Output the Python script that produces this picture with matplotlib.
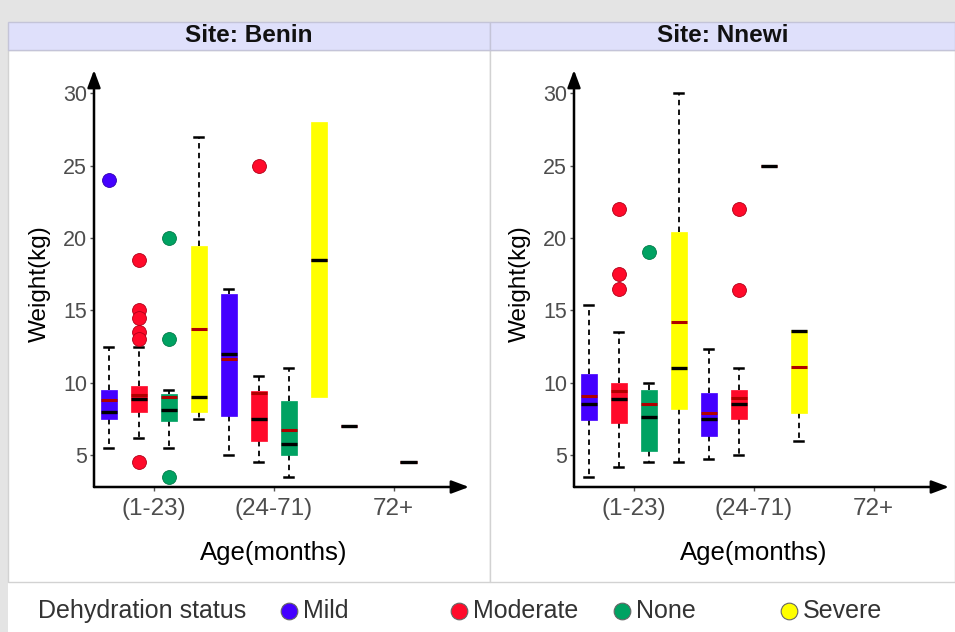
import matplotlib
matplotlib.use("Agg")
import matplotlib.pyplot as plt
from matplotlib.patches import Rectangle
from matplotlib.lines import Line2D

plt.rcParams['font.family'] = ['Liberation Sans', 'DejaVu Sans']

# ---------------- data ----------------
age_groups = ["(1-23)", "(24-71)", "72+"]
statuses = ["Mild", "Moderate", "None", "Severe"]
status_colors = ["#4400ff", "#ff0a2a", "#00a262", "#ffff00"]
status_edges = ["#3000b0", "#b00018", "#007a48", "#b0b000"]
sites = ["Site: Benin", "Site: Nnewi"]

# rows = age group, columns = status (Mild, Moderate, None, Severe)
benin_low = [[5.5, 6.2, 5.5, 7.5], [5.0, 4.5, 3.5, 9.0], [7.0, None, 4.5, None]]
benin_q1 = [[7.5, 8.0, 7.35, 8.0], [7.7, 6.0, 5.0, 9.0], [7.0, None, 4.5, None]]
benin_med = [[8.0, 8.9, 8.15, 9.0], [12.0, 7.5, 5.8, 18.5], [7.0, None, 4.5, None]]
benin_q3 = [[9.5, 9.8, 9.2, 19.45], [16.1, 9.4, 8.75, 28.0], [7.0, None, 4.5, None]]
benin_high = [[12.5, 12.5, 9.5, 27.0], [16.5, 10.5, 11.0, 28.0], [7.0, None, 4.5, None]]
benin_mean = [[8.8, 9.15, 9.0, 13.7], [11.65, 9.3, 6.75, 18.5], [7.0, None, 4.5, None]]
benin_out = [[[24.0], [18.5, 15.0, 14.5, 13.5, 13.0, 4.5], [20.0, 13.0, 3.5], []],
             [[], [25.0], [], []],
             [[], [], [], []]]

nnewi_low = [[3.5, 4.2, 4.5, 4.5], [4.7, 5.0, 25.0, 6.0], [None, None, None, None]]
nnewi_q1 = [[7.4, 7.25, 5.3, 8.2], [6.3, 7.5, 25.0, 7.9], [None, None, None, None]]
nnewi_med = [[8.5, 8.9, 7.6, 11.0], [7.5, 8.5, 25.0, 13.6], [None, None, None, None]]
nnewi_q3 = [[10.6, 10.0, 9.5, 20.4], [9.3, 9.5, 25.0, 13.65], [None, None, None, None]]
nnewi_high = [[15.4, 13.5, 10.0, 30.0], [12.3, 11.0, 25.0, 13.65], [None, None, None, None]]
nnewi_mean = [[9.1, 9.4, 8.5, 14.2], [7.9, 8.95, 25.0, 11.1], [None, None, None, None]]
nnewi_out = [[[], [22.0, 17.5, 16.5], [19.0], []],
             [[], [22.0, 16.4], [], []],
             [[], [], [], []]]

site_data = [
    (benin_low, benin_q1, benin_med, benin_q3, benin_high, benin_mean, benin_out),
    (nnewi_low, nnewi_q1, nnewi_med, nnewi_q3, nnewi_high, nnewi_mean, nnewi_out),
]
y_ticks = [5, 10, 15, 20, 25, 30]

# ---------------- figure ----------------
W, H = 955, 632
fig = plt.figure(figsize=(W / 100, H / 100), dpi=100, facecolor="white")


def fx(x):
    return x / W


def fy(y):
    return 1 - y / H


def rect_px(x0, y0, x1, y1, **kw):
    fig.add_artist(Rectangle((fx(x0), fy(y1)), fx(x1) - fx(x0), fy(y0) - fy(y1),
                             transform=fig.transFigure, **kw))


# outer grey frame
rect_px(0, 0, W, 22, facecolor="#e4e4e4", edgecolor="none", zorder=0)
rect_px(0, 0, 8, H, facecolor="#e4e4e4", edgecolor="none", zorder=0)

panel_x = [(8, 490), (490, 955)]
for i, (x0, x1) in enumerate(panel_x):
    rect_px(x0, 50, x1, 582, facecolor="white", edgecolor="#d2d2d2", lw=1.0, zorder=0)
    rect_px(x0, 22, x1, 50, facecolor="#dfe0fb", edgecolor="#c4c4d8", lw=1.0, zorder=1)
    fig.text(fx((x0 + x1) / 2), fy(36), sites[i], ha="center", va="center",
             fontsize=17.5, fontweight="bold", color="#111111")

axes_left = [94, 574]
ax_w = 375
ax_top, ax_bot = 70, 487
offsets = [-0.375, -0.125, 0.125, 0.375]

for si, ax_l in enumerate(axes_left):
    ax = fig.add_axes([fx(ax_l), fy(ax_bot), ax_w / W, (ax_bot - ax_top) / H])
    ax.set_facecolor("none")
    low, q1, med, q3, high, mean, out = site_data[si]
    for s in range(len(statuses)):
        stats = []
        pos = []
        for a in range(len(age_groups)):
            if low[a][s] is None:
                continue
            stats.append(dict(whislo=low[a][s], q1=q1[a][s], med=med[a][s],
                              q3=q3[a][s], whishi=high[a][s], mean=mean[a][s],
                              fliers=out[a][s]))
            pos.append(a + 1 + offsets[s])
        if not stats:
            continue
        bp = ax.bxp(stats, positions=pos, widths=0.135, patch_artist=True,
                    showmeans=True, meanline=True, capwidths=0.075,
                    boxprops=dict(facecolor=status_colors[s], edgecolor=status_colors[s],
                                  lw=0.5, zorder=2),
                    whiskerprops=dict(color="black", lw=1.3, linestyle=(0, (3.0, 2.4)), zorder=1),
                    capprops=dict(color="black", lw=1.8, zorder=1),
                    medianprops=dict(color="black", lw=2.4, solid_capstyle="butt", zorder=4),
                    meanprops=dict(color="#b00000", lw=2.2, linestyle="-", zorder=3),
                    flierprops=dict(marker="o", markersize=10, markerfacecolor=status_colors[s],
                                    markeredgecolor=status_edges[s], markeredgewidth=0.6,
                                    linestyle="none", zorder=5))
        # hide caps of zero-length whiskers on boxes with spread
        for k, st in enumerate(stats):
            if st["q3"] > st["q1"]:
                if st["whislo"] == st["q1"]:
                    bp["caps"][2 * k].set_visible(False)
                if st["whishi"] == st["q3"]:
                    bp["caps"][2 * k + 1].set_visible(False)
    ax.set_xlim(0.5, 3.63)
    ax.set_ylim(2.8, 31.6)
    ax.set_xticks([1, 2, 3])
    ax.set_xticklabels(age_groups)
    ax.set_yticks(y_ticks)
    for sp in ax.spines.values():
        sp.set_visible(False)
    ax.tick_params(axis="both", length=3, width=1, color="#555555", labelcolor="#4d4d4d")
    ax.tick_params(axis="y", labelsize=15.5, pad=2)
    ax.tick_params(axis="x", labelsize=17.5, pad=5)
    arrow = dict(arrowstyle="-|>,head_length=0.75,head_width=0.28", lw=1.8,
                 color="black", shrinkA=0, shrinkB=0, mutation_scale=14)
    ax.annotate("", xy=(1, 0), xytext=(0, 0), xycoords="axes fraction",
                textcoords="axes fraction", arrowprops=arrow, annotation_clip=False)
    ax.annotate("", xy=(0, 1), xytext=(0, 0), xycoords="axes fraction",
                textcoords="axes fraction", arrowprops=arrow, annotation_clip=False)
    ax.set_xlabel("Age(months)", fontsize=18.5, color="black")
    ax.set_ylabel("Weight(kg)", fontsize=17.5, color="black")
    ax.xaxis.set_label_coords(0.478, -0.13)
    ax.yaxis.set_label_coords(-0.115, 0.488)

# legend
fig.text(fx(38), fy(611), "Dehydration status", ha="left", va="center",
         fontsize=18, color="#333333")
leg_marker_x = [289, 459, 622, 789]
for s, lab in enumerate(statuses):
    fig.add_artist(Line2D([fx(leg_marker_x[s])], [fy(611)], marker="o", markersize=12,
                          markerfacecolor=status_colors[s], markeredgecolor="#666666",
                          markeredgewidth=0.8, linestyle="none", transform=fig.transFigure))
    fig.text(fx(leg_marker_x[s] + 14), fy(611), lab, ha="left", va="center",
             fontsize=18, color="#333333")

fig.savefig("out.png", dpi=100, facecolor="white")
